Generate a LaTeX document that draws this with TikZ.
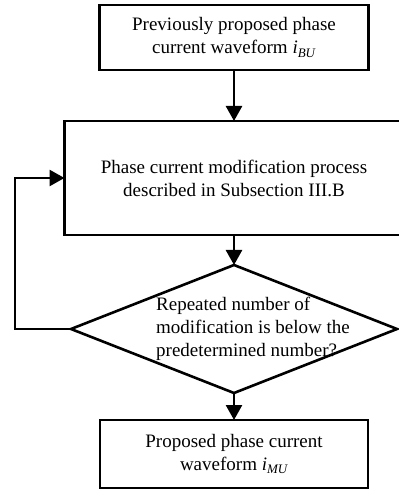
\documentclass[tikz,border=0pt]{standalone}
\usepackage{fontspec}
\setmainfont{Liberation Serif}
\usetikzlibrary{positioning,arrows.meta,shapes.geometric}
\newcommand{\cur}[1]{\textit{i}\raisebox{-0.45ex}{\fontsize{6.5pt}{6.5pt}\selectfont\textit{#1}}}
\tikzset{
  font=\fontsize{9.5pt}{11.5pt}\selectfont
}

\begin{document}
\begin{tikzpicture}[box/.style={rectangle,draw,line width=1.3pt,align=center,inner sep=0pt,outer sep=0pt},
                    check/.style={diamond,draw,line width=1.3pt,inner sep=0pt,outer sep=0pt,minimum width=163pt,minimum height=64pt},
                    arr/.style={-{Triangle[length=7.5pt,width=8pt]},line width=1.3pt},
                    node distance=25.5pt]
\useasboundingbox (0,0) rectangle (199.5pt,-245pt);
\node[box,minimum width=134.5pt,minimum height=32.5pt] (prev) at (117pt,-18.75pt) {Previously proposed phase\\current waveform \cur{BU}};
\node[box,minimum width=169.5pt,minimum height=57pt] (mod) [below=of prev] {Phase current modification process\\described in Subsection III.B};
\node[check] (repeat) [below=15pt of mod] {};
\node[align=left] (question) at ([xshift=9.5pt]repeat.center) {Repeated number of\\modification is below the\\predetermined number?};
\node[box,minimum width=134pt,minimum height=34pt] (result) [below=13.5pt of repeat] {Proposed phase current\\waveform \cur{MU}};
\draw[arr] (prev) -- (mod);
\draw[arr] (mod) -- (repeat);
\draw[arr] (repeat) -- (result);
\draw[arr] (repeat.west) -- ++(-28pt,0) |- (mod.west);
\end{tikzpicture}
\end{document}
